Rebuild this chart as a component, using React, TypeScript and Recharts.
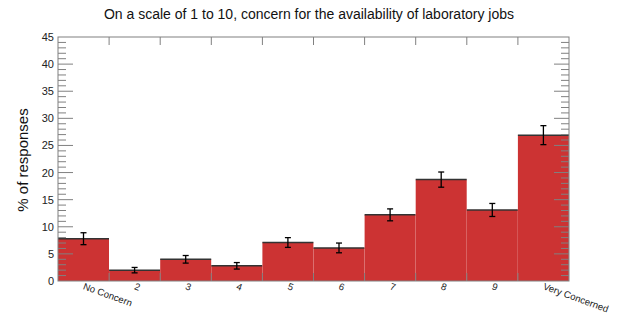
import { BarChart, Bar, XAxis, YAxis, ErrorBar } from "recharts";

const categories = ["No Concern", "2", "3", "4", "5", "6", "7", "8", "9", "Very Concerned"];
const percentValues = [7.8, 2.0, 4.0, 2.8, 7.1, 6.1, 12.2, 18.7, 13.1, 26.9];
const percentErrors = [1.1, 0.5, 0.7, 0.6, 0.9, 0.9, 1.1, 1.4, 1.2, 1.75];
const yTicks = Array.from({ length: 46 }, (_, i) => i);

const data = categories.map((name, i) => ({
  name,
  pct: percentValues[i],
  err: percentErrors[i],
}));

const W = 618;
const H = 314;
const M = { top: 37, right: 49, bottom: 0, left: 28 };
const Y_W = 30;
const X_H = 33;
const PLOT_W = W - M.left - Y_W - M.right;
const PLOT_H = H - M.top - M.bottom - X_H;
const TICK_MARGIN = 4;
const AXIS = "#808080";
const FONT = "'Liberation Sans', Arial, sans-serif";

function YTick(props: any) {
  const { x, y, payload, index } = props;
  const v = payload.value;
  const left = x + TICK_MARGIN;
  const right = left + PLOT_W;
  const major = v % 5 === 0;
  const len = major ? 15 : 8;
  return (
    <g>
      {index === 0 && (
        <rect x={left} y={y - PLOT_H} width={PLOT_W} height={PLOT_H} fill="none" stroke={AXIS} strokeWidth={1} />
      )}
      {v !== 0 && v !== 45 && (
        <>
          <line x1={left} x2={left + len} y1={y} y2={y} stroke={AXIS} strokeWidth={1} />
          <line x1={right - len} x2={right} y1={y} y2={y} stroke={AXIS} strokeWidth={1} />
        </>
      )}
      {major && (
        <text x={x} y={y} dy={4} textAnchor="end" fontSize={11} fontFamily={FONT} fill="#222">
          {v}
        </text>
      )}
    </g>
  );
}

function XTick(props: any) {
  const { x, y, payload, index } = props;
  const bottom = y - TICK_MARGIN;
  const top = bottom - PLOT_H;
  const edge = x + payload.offset;
  const last = index === categories.length - 1;
  const ty = bottom + 8;
  return (
    <g>
      {!last && (
        <>
          <line x1={edge} x2={edge} y1={bottom} y2={bottom - 8} stroke={AXIS} strokeWidth={1} />
          <line x1={edge} x2={edge} y1={top} y2={top + 8} stroke={AXIS} strokeWidth={1} />
        </>
      )}
      <text
        x={x - 1}
        y={ty}
        transform={`rotate(20 ${x - 1} ${ty})`}
        textAnchor="start"
        fontSize={9.6}
        fontFamily={FONT}
        fill="#222"
      >
        {payload.value}
      </text>
    </g>
  );
}

function HistBar(props: any) {
  const { x, y, width, height } = props;
  return (
    <g>
      <rect x={x} y={y} width={width} height={height} fill="#cc3333" />
      <line x1={x} x2={x + width} y1={y} y2={y} stroke="#333" strokeWidth={1.5} />
    </g>
  );
}

export default function App() {
  return (
    <div style={{ position: "absolute", left: 0, top: 0, width: W, height: H, background: "#fff" }}>
      <div
        style={{
          position: "absolute",
          top: 6,
          left: 0,
          width: W,
          textAlign: "center",
          fontFamily: FONT,
          fontSize: 14,
          color: "#111",
        }}
      >
        On a scale of 1 to 10, concern for the availability of laboratory jobs
      </div>
      <div
        style={{
          position: "absolute",
          left: 22,
          top: 160,
          transform: "translate(-50%, -50%) rotate(-90deg)",
          fontFamily: FONT,
          fontSize: 15,
          color: "#111",
          whiteSpace: "nowrap",
        }}
      >
        % of responses
      </div>
      <BarChart width={W} height={H} data={data} margin={M} barCategoryGap={0} style={{ overflow: "visible" }}>
        <Bar dataKey="pct" shape={<HistBar />} isAnimationActive={false}>
          <ErrorBar dataKey="err" width={3} stroke="#000" strokeWidth={1.3} />
        </Bar>
        <XAxis
          dataKey="name"
          height={X_H}
          interval={0}
          tickSize={0}
          tickMargin={TICK_MARGIN}
          tickLine={false}
          axisLine={false}
          tick={<XTick />}
        />
        <YAxis
          width={Y_W}
          domain={[0, 45]}
          ticks={yTicks}
          interval={0}
          tickSize={0}
          tickMargin={TICK_MARGIN}
          tickLine={false}
          axisLine={false}
          tick={<YTick />}
          allowDataOverflow
        />
      </BarChart>
    </div>
  );
}
